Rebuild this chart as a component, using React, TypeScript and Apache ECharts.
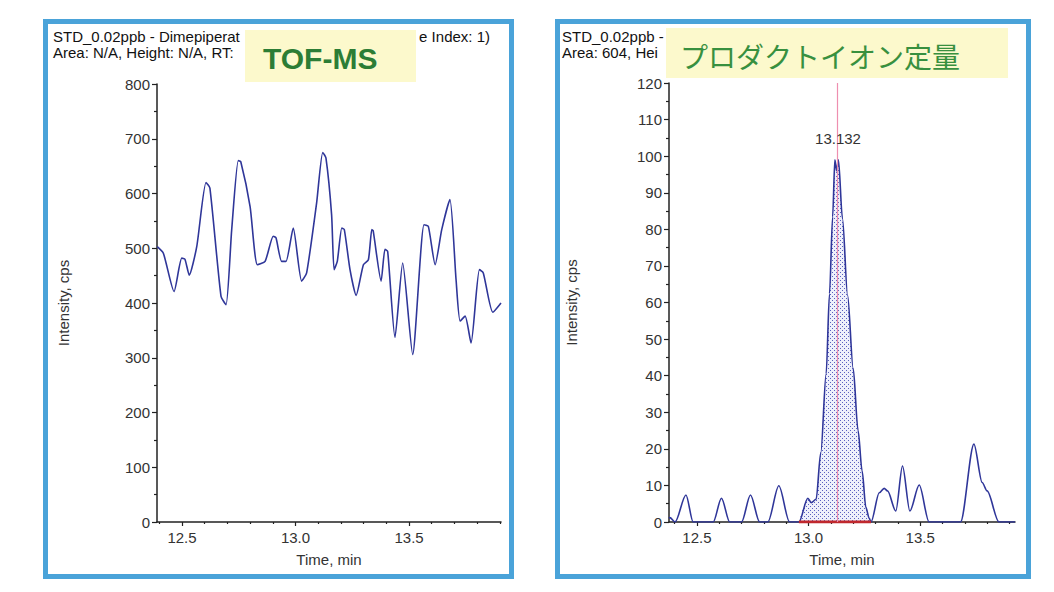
import React, { useEffect, useRef } from 'react';
import * as echarts from 'echarts';

// ---- TOF-MS trace (left) ----
const tofTime = [
  12.391, 12.418, 12.465, 12.499, 12.513, 12.532, 12.565, 12.606, 12.623, 12.672,
  12.694, 12.719, 12.748, 12.759, 12.8, 12.832, 12.866, 12.902, 12.914, 12.939,
  12.958, 12.99, 13.027, 13.049, 13.093, 13.12, 13.134, 13.159, 13.17, 13.184,
  13.204, 13.215, 13.24, 13.267, 13.299, 13.321, 13.336, 13.342, 13.377, 13.394,
  13.406, 13.438, 13.472, 13.516, 13.566, 13.585, 13.615, 13.644, 13.68, 13.707,
  13.725, 13.747, 13.773, 13.81, 13.827, 13.869, 13.905,
];
const tofIntensity = [
  503, 491, 421, 482, 480, 451, 503, 620, 610, 412,
  397, 534, 660, 658, 576, 470, 476, 522, 519, 476,
  476, 537, 440, 455, 583, 675, 665, 561, 461, 476,
  537, 534, 461, 414, 470, 479, 534, 532, 440, 498,
  494, 337, 473, 306, 543, 540, 470, 534, 589, 443,
  367, 376, 327, 461, 455, 383, 400,
];

// ---- Product ion trace (right) ----
const mrmTime = [
  12.375, 12.379, 12.402, 12.451, 12.483, 12.573, 12.61, 12.647, 12.7, 12.74,
  12.781, 12.818, 12.867, 12.915, 12.957, 12.997, 13.012, 13.034, 13.055, 13.079,
  13.094, 13.108, 13.118, 13.126, 13.134, 13.152, 13.175, 13.2, 13.222, 13.24,
  13.257, 13.272, 13.28, 13.317, 13.339, 13.354, 13.391, 13.421, 13.454, 13.496,
  13.54, 13.681, 13.741, 13.778, 13.8, 13.853, 13.925,
];
const mrmIntensity = [
  1, 1.2, 0, 7.4, 0, 0, 6.5, 0, 0, 7.4,
  0, 0, 9.9, 0, 0, 6.5, 5.3, 6.2, 19, 40.5,
  62.4, 83.4, 99, 96, 99, 83, 62, 42, 25, 14,
  4, 1, 0, 8, 9.2, 8.5, 3, 15.3, 3, 10.1,
  0, 0, 21.3, 10.8, 8.5, 0, 0,
];

const peakRT = 13.132;
const peakLabelHeight = 99;
const peakStart = 12.957;
const peakEnd = 13.28;

const xMajorTicks = [12.5, 13.0, 13.5];
const xMinorTicks = [12.4, 12.6, 12.7, 12.8, 12.9, 13.1, 13.2, 13.3, 13.4, 13.6, 13.7, 13.8, 13.9];

const FONT = '"Liberation Sans", Arial, sans-serif';
const AXIS_COLOR = '#222';
const TRACE_COLOR = '#2f3699';

function makeDots(): HTMLCanvasElement {
  const c = document.createElement('canvas');
  c.width = 4;
  c.height = 4;
  const ctx = c.getContext('2d')!;
  ctx.fillStyle = '#eef0fb';
  ctx.fillRect(0, 0, 4, 4);
  ctx.fillStyle = '#5a60c0';
  ctx.fillRect(0, 0, 1, 1);
  ctx.fillRect(2, 2, 1, 1);
  return c;
}

const labelStyle = { color: '#333', fontSize: 15, fontFamily: FONT };

function xAxes(gridIndex: number, min: number, max: number) {
  return [
    {
      type: 'value', gridIndex, min, max, position: 'bottom',
      name: 'Time, min', nameLocation: 'middle', nameGap: 30,
      nameTextStyle: { ...labelStyle },
      axisLine: { show: true, onZero: false, lineStyle: { color: AXIS_COLOR, width: 1.5 } },
      axisTick: { show: true, customValues: xMajorTicks, length: 4, lineStyle: { color: AXIS_COLOR, width: 1.2 } },
      axisLabel: { ...labelStyle, customValues: xMajorTicks, margin: 8, formatter: (v: number) => v.toFixed(1) },
      splitLine: { show: false },
    },
    {
      type: 'value', gridIndex, min, max, position: 'bottom',
      axisLine: { show: false },
      axisTick: { show: true, customValues: xMinorTicks, length: 2, lineStyle: { color: AXIS_COLOR, width: 1.2 } },
      axisLabel: { show: false },
      splitLine: { show: false },
    },
  ];
}

function yAxis(gridIndex: number, max: number, interval: number, nameGap: number) {
  return {
    type: 'value', gridIndex, min: 0, max, interval,
    name: 'Intensity, cps', nameLocation: 'middle', nameGap,
    nameTextStyle: { ...labelStyle },
    axisLine: { show: true, lineStyle: { color: AXIS_COLOR, width: 1.5 } },
    axisTick: { show: true, length: 5, lineStyle: { color: AXIS_COLOR, width: 1.2 } },
    minorTick: { show: true, splitNumber: 2, length: 3, lineStyle: { color: AXIS_COLOR, width: 1.2 } },
    axisLabel: { ...labelStyle, margin: 7 },
    splitLine: { show: false },
  };
}

function txt(x: number, y: number, text: string, opts: any = {}) {
  return {
    type: 'text', x, y, z: opts.z || 50,
    style: {
      text,
      font: opts.font || `15px ${FONT}`,
      fill: opts.fill || '#111',
      align: opts.align || 'left',
      textAlign: opts.align || 'left',
      verticalAlign: 'middle',
      textVerticalAlign: 'middle',
    },
  };
}

export default function App() {
  const ref = useRef<HTMLDivElement>(null);
  useEffect(() => {
    if (!ref.current) return;
    const chart = echarts.init(ref.current, undefined, { renderer: 'svg' });
    const tofData = tofTime.map((t, i) => [t, tofIntensity[i]]);
    const mrmData = mrmTime.map((t, i) => [t, mrmIntensity[i]]);
    const peakData = mrmData.filter(([t]) => t >= peakStart && t <= peakEnd);
    const dots = makeDots();

    chart.setOption({
      animation: false,
      backgroundColor: '#ffffff',
      grid: [
        { left: 157, top: 84, width: 344, height: 438, containLabel: false },
        { left: 669, top: 83, width: 346, height: 439, containLabel: false },
      ],
      xAxis: [...xAxes(0, 12.39, 13.905), ...xAxes(1, 12.375, 13.925)],
      yAxis: [yAxis(0, 800, 100, 86), yAxis(1, 120, 10, 90)],
      series: [
        {
          type: 'line', xAxisIndex: 0, yAxisIndex: 0, data: tofData,
          showSymbol: false, smooth: 0.2,
          lineStyle: { color: TRACE_COLOR, width: 1.6 },
        },
        {
          type: 'line', xAxisIndex: 2, yAxisIndex: 1, data: peakData,
          showSymbol: false, z: 1, smooth: 0.3, smoothMonotone: 'x',
          lineStyle: { width: 0, opacity: 0 },
          areaStyle: { color: { image: dots, repeat: 'repeat' }, opacity: 1 },
        },
        {
          type: 'line', xAxisIndex: 2, yAxisIndex: 1, data: mrmData,
          showSymbol: false, z: 3, smooth: 0.3, smoothMonotone: 'x',
          lineStyle: { color: TRACE_COLOR, width: 1.6 },
          markLine: {
            silent: true, symbol: ['none', 'none'],
            lineStyle: { color: '#ee8fb0', width: 1.2, type: 'solid' },
            label: { show: false },
            data: [{ xAxis: peakRT }],
          },
          markPoint: {
            silent: true, symbol: 'circle', symbolSize: 1,
            itemStyle: { color: 'rgba(0,0,0,0)' },
            label: {
              show: true, position: 'top', distance: 13,
              formatter: peakRT.toFixed(3), ...labelStyle,
            },
            data: [{ coord: [peakRT, peakLabelHeight] }],
          },
        },
        {
          type: 'line', xAxisIndex: 2, yAxisIndex: 1,
          data: [[peakStart, 0], [peakEnd, 0]],
          showSymbol: false, z: 4,
          lineStyle: { color: '#c0282d', width: 3 },
        },
      ],
      graphic: [
        { type: 'rect', z: -10, shape: { x: 45.5, y: 21.5, width: 466, height: 555 }, style: { fill: '#fff', stroke: '#4aa3d9', lineWidth: 5 } },
        { type: 'rect', z: -10, shape: { x: 557.5, y: 21.5, width: 471, height: 555 }, style: { fill: '#fff', stroke: '#4aa3d9', lineWidth: 5 } },
        txt(53, 36, 'STD_0.02ppb - Dimepiperat'),
        txt(490, 36, 'e Index: 1)', { align: 'right' }),
        txt(53, 52, 'Area: N/A, Height: N/A, RT:'),
        txt(562, 36, 'STD_0.02ppb -'),
        txt(562, 52, 'Area: 604, Hei'),
        { type: 'rect', z: 100, shape: { x: 245, y: 30, width: 171, height: 52 }, style: { fill: '#fcf9cc' } },
        { type: 'rect', z: 100, shape: { x: 666, y: 28, width: 342, height: 50 }, style: { fill: '#fcf9cc' } },
        txt(263, 58, 'TOF-MS', { font: `bold 30px ${FONT}`, fill: '#2c7d35', z: 110 }),
        txt(680, 56, 'プロダクトイオン定量', { font: `28px "Noto Sans CJK JP", sans-serif`, fill: '#38903f', z: 110 }),
      ],
    });
    return () => chart.dispose();
  }, []);
  return (
    <div
      ref={ref}
      style={{ position: 'fixed', left: 0, top: 0, width: 1054, height: 592, background: '#fff' }}
    />
  );
}
